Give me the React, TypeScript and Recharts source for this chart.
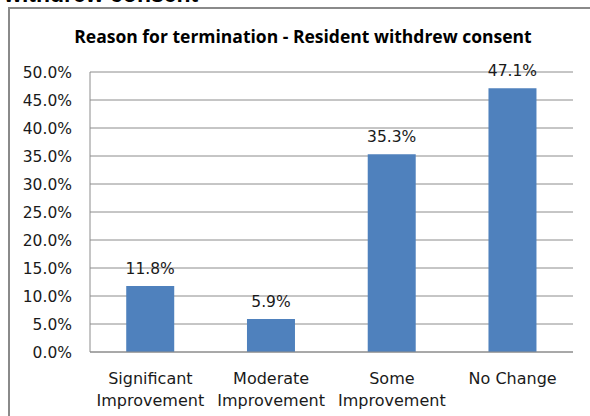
import React from 'react';
import { BarChart, Bar, XAxis, YAxis, CartesianGrid, LabelList } from 'recharts';

// catégories (saut de ligne = retour à la ligne sur l'axe)
const categories = ['Significant\nImprovement', 'Moderate\nImprovement', 'Some\nImprovement', 'No Change'];
const percentages = [11.8, 5.9, 35.3, 47.1];
const yTicks = [0, 5, 10, 15, 20, 25, 30, 35, 40, 45, 50];

const data = categories.map((name, i) => ({ name, value: percentages[i] }));

const FONT = '"DejaVu Sans", sans-serif';
const GRID = '#8c8c8c';

const CategoryTick = (props: any) => {
  const { x, y, payload } = props;
  const lines = String(payload.value).split('\n');
  return (
    <text x={x} y={y} textAnchor="middle" fontFamily={FONT} fontSize={16} fill="#1a1a1a">
      {lines.map((l: string, i: number) => (
        <tspan key={i} x={x} dy={i === 0 ? 24 : 22}>{l}</tspan>
      ))}
    </text>
  );
};

export default function App() {
  return (
    <div style={{ position: 'absolute', left: 0, top: 0, width: 590, height: 416, overflow: 'hidden', background: '#fff' }}>
      {/* titre de la section, coupé en haut */}
      <div style={{ position: 'absolute', left: 4, top: -18, fontFamily: '"Liberation Sans", Arial, sans-serif', fontWeight: 'bold', fontSize: 23, lineHeight: '24px', color: '#000', whiteSpace: 'nowrap' }}>
        withdrew consent
      </div>
      {/* cadre du graphique */}
      <div style={{ position: 'absolute', left: 8, top: 7, width: 600, height: 420, borderLeft: '2px solid #8a8a8a', borderTop: '2px solid #8a8a8a' }} />
      <div style={{ position: 'absolute', left: 0, width: 606, top: 24, textAlign: 'center', fontFamily: '"Open Sans", sans-serif', fontWeight: 700, fontSize: 17.5, color: '#000' }}>
        Reason for termination - Resident withdrew consent
      </div>
      <div style={{ position: 'absolute', left: 0, top: 0 }}>
        <BarChart width={590} height={416} data={data} margin={{ top: 72, right: 17, bottom: 0, left: 8 }} barCategoryGap="30%">
          <CartesianGrid vertical={false} stroke={GRID} />
          <XAxis dataKey="name" height={64} tickLine={false} axisLine={{ stroke: GRID }} tick={<CategoryTick />} interval={0} />
          <YAxis
            width={82}
            domain={[0, 50]}
            ticks={yTicks}
            tickFormatter={(v: number) => `${v.toFixed(1)}%`}
            tickLine={false}
            tickSize={0}
            tickMargin={18}
            axisLine={{ stroke: GRID }}
            tick={{ fontFamily: FONT, fontSize: 15.5, fill: '#1a1a1a' }}
          />
          <Bar dataKey="value" fill="#4F81BD" isAnimationActive={false}>
            <LabelList
              dataKey="value"
              position="top"
              offset={12}
              formatter={(v: any) => `${Number(v).toFixed(1)}%`}
              style={{ fontFamily: FONT, fontSize: 15.5, fill: '#1a1a1a' }}
            />
          </Bar>
        </BarChart>
      </div>
    </div>
  );
}
